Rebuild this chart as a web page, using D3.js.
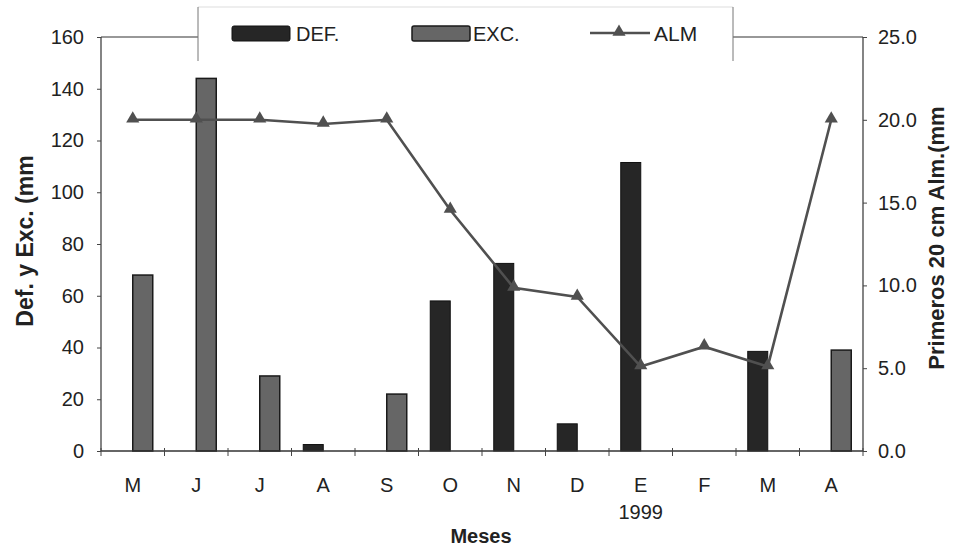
<!DOCTYPE html>
<html><head><meta charset="utf-8">
<script src="https://cdn.jsdelivr.net/npm/d3@7"></script>
<style>
html,body{margin:0;padding:0;background:#fff;}
text{font-family:"Liberation Sans",Arial,sans-serif;}
</style></head>
<body>
<svg id="c" width="953" height="546"></svg>
<script>
const months = ["M","J","J","A","S","O","N","D","E","F","M","A"];
const defValues = [0,0,0,2.5,0,58,72.5,10.5,111.5,0,38.5,0];
const excValues = [68,144,29,0,22,0,0,0,0,0,0,39];
const almValues = [20.0,20.0,20.0,19.75,20.0,14.55,9.85,9.3,5.1,6.3,5.1,20.0];
const leftTicks = [0,20,40,60,80,100,120,140,160];
const rightTicks = [0,5,10,15,20,25];

const svg = d3.select("#c");
const L = 101, R = 863, T = 37, B = 451;
const idx = d3.range(months.length);
const x = d3.scaleBand().domain(idx).range([L, R]).padding(0);
const yL = d3.scaleLinear().domain([0,160]).range([B, T]);
const yR = d3.scaleLinear().domain([0,25]).range([B, T]);
const bw = 20;
const cx = i => x(i) + x.bandwidth()/2;
const FS = 20;

// plot frame (left, right, top)
svg.append("line").attr("x1",L).attr("x2",L).attr("y1",T).attr("y2",B).attr("stroke","#333").attr("stroke-width",1.2);
svg.append("line").attr("x1",R).attr("x2",R).attr("y1",T).attr("y2",B).attr("stroke","#333").attr("stroke-width",1.2);
svg.append("line").attr("x1",L).attr("x2",R).attr("y1",T).attr("y2",T).attr("stroke","#333").attr("stroke-width",1.2);

// bars
svg.append("g").selectAll("rect").data(idx.filter(i=>defValues[i]>0)).join("rect")
  .attr("x", i => cx(i) - bw).attr("width", bw)
  .attr("y", i => yL(defValues[i])).attr("height", i => B - yL(defValues[i]))
  .attr("fill","#262626").attr("stroke","#111").attr("stroke-width",1);
svg.append("g").selectAll("rect").data(idx.filter(i=>excValues[i]>0)).join("rect")
  .attr("x", i => cx(i)).attr("width", bw)
  .attr("y", i => yL(excValues[i])).attr("height", i => B - yL(excValues[i]))
  .attr("fill","#666").attr("stroke","#1a1a1a").attr("stroke-width",1.5);

// line
const line = d3.line().x((d,i)=>cx(i)).y(d=>yR(d));
svg.append("path").datum(almValues).attr("d",line).attr("fill","none")
  .attr("stroke","#505050").attr("stroke-width",2.6);
const tri = d3.symbol().type(d3.symbolTriangle).size(75);
svg.append("g").selectAll("path").data(almValues).join("path")
  .attr("d", tri).attr("transform",(d,i)=>`translate(${cx(i)},${yR(d)-1})`)
  .attr("fill","#505050");

// axes
const axL = svg.append("g").attr("transform",`translate(${L},0)`)
  .call(d3.axisLeft(yL).tickValues(leftTicks).tickSize(4).tickPadding(13).tickFormat(d3.format("d")));
const axR = svg.append("g").attr("transform",`translate(${R},0)`)
  .call(d3.axisRight(yR).tickValues(rightTicks).tickSize(4).tickPadding(11).tickFormat(d3.format(".1f")));
[axL,axR].forEach(a=>{
  a.select(".domain").remove();
  a.selectAll("line").attr("stroke","#444");
  a.selectAll("text").attr("font-size",FS).attr("fill","#222").attr("font-family","Liberation Sans, Arial, sans-serif");
});

// x axis
svg.append("line").attr("x1",L).attr("x2",R).attr("y1",B).attr("y2",B).attr("stroke","#333").attr("stroke-width",1.4);
svg.append("g").selectAll("line").data(d3.range(months.length+1)).join("line")
  .attr("x1", i => L + i*x.bandwidth()).attr("x2", i => L + i*x.bandwidth())
  .attr("y1", B-3).attr("y2", B+5).attr("stroke","#444");
svg.append("g").selectAll("text").data(idx).join("text")
  .attr("x", i => cx(i)).attr("y", 492).attr("text-anchor","middle")
  .attr("font-size",FS).attr("fill","#222").text(i => months[i]);
svg.append("text").attr("x", cx(8)).attr("y", 519).attr("text-anchor","middle")
  .attr("font-size",FS).attr("fill","#222").text("1999");

// titles
svg.append("text").attr("x",481).attr("y",543).attr("text-anchor","middle")
  .attr("font-size",20).attr("font-weight","bold").attr("fill","#222").text("Meses");
svg.append("text").attr("transform","translate(33,241) rotate(-90)").attr("text-anchor","middle")
  .attr("font-size",23).attr("font-weight","bold").attr("fill","#222").text("Def. y Exc. (mm");
svg.append("text").attr("transform","translate(944,238) rotate(-90)").attr("text-anchor","middle")
  .attr("font-size",22).attr("font-weight","bold").attr("fill","#222").text("Primeros 20 cm Alm.(mm");

// legend
const lg = svg.append("g");
lg.append("rect").attr("x",198).attr("y",7).attr("width",535).attr("height",54)
  .attr("fill","#fff").attr("stroke","none");
lg.append("line").attr("x1",198).attr("x2",733).attr("y1",7).attr("y2",7).attr("stroke","#ddd");
lg.append("line").attr("x1",198).attr("x2",198).attr("y1",7).attr("y2",61).attr("stroke","#777");
lg.append("line").attr("x1",733).attr("x2",733).attr("y1",7).attr("y2",61).attr("stroke","#777");
lg.append("rect").attr("x",232).attr("y",26).attr("width",58).attr("height",15).attr("rx",2)
  .attr("fill","#262626").attr("stroke","#111");
lg.append("text").attr("x",296).attr("y",41).attr("font-size",FS).attr("fill","#222").text("DEF.");
lg.append("rect").attr("x",412).attr("y",26).attr("width",58).attr("height",15).attr("rx",2)
  .attr("fill","#666").attr("stroke","#1a1a1a").attr("stroke-width",1.5);
lg.append("text").attr("x",473).attr("y",41).attr("font-size",FS).attr("fill","#222").text("EXC.");
lg.append("line").attr("x1",590).attr("x2",650).attr("y1",33).attr("y2",33).attr("stroke","#505050").attr("stroke-width",2.6);
lg.append("path").attr("d",tri).attr("transform","translate(619,32)").attr("fill","#505050");
lg.append("text").attr("x",654).attr("y",41).attr("font-size",21).attr("fill","#222").text("ALM");
</script>
</body></html>
